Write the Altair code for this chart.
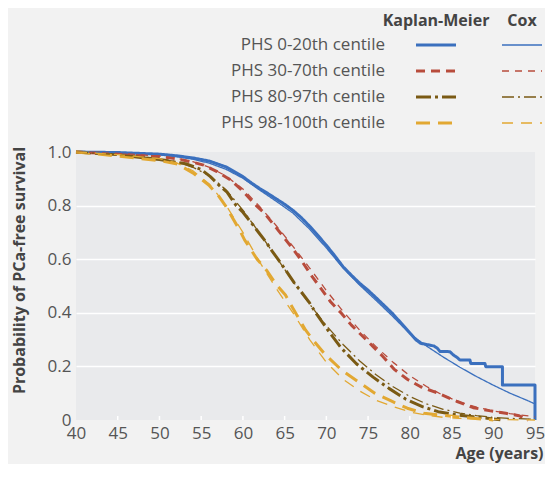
import altair as alt
import pandas as pd

# ---------------- data ----------------
series = ["PHS 0-20th centile", "PHS 30-70th centile",
          "PHS 80-97th centile", "PHS 98-100th centile"]
methods = ["Kaplan-Meier", "Cox"]
colors = ["#3b70be", "#b84c3c", "#7a5a14", "#e2a832"]

x_ticks = [40, 45, 50, 55, 60, 65, 70, 75, 80, 85, 90, 95]
inner_ticks = [45, 50, 55, 60, 65, 70, 75, 80, 85, 90]
y_ticks = [0, 0.2, 0.4, 0.6, 0.8, 1.0]

# Kaplan-Meier curves
km0_age = [40, 45, 50, 52, 54, 56, 58, 60, 61, 62, 63, 64, 65, 66, 67, 68, 69, 70, 71, 72,
           73, 74, 75, 76, 77, 78, 79, 80, 80.7, 81.3, 82.0, 82.9, 83.3, 83.6, 84.8, 85.2,
           85.6, 86.0, 87.2, 87.3, 89.0, 89.1, 91.1, 91.1, 95.0, 95.0]
km0_surv = [1.0, 0.998, 0.992, 0.986, 0.978, 0.966, 0.944, 0.908, 0.885, 0.864, 0.845,
            0.825, 0.805, 0.782, 0.755, 0.723, 0.688, 0.652, 0.613, 0.572, 0.54, 0.51,
            0.484, 0.455, 0.425, 0.395, 0.36, 0.325, 0.3, 0.286, 0.282, 0.276, 0.268,
            0.256, 0.255, 0.243, 0.235, 0.224, 0.224, 0.211, 0.211, 0.199, 0.199, 0.131,
            0.131, 0.0]

km1_age = [40, 45, 47.5, 50, 52, 54, 55.3, 56.9, 58.5, 59.8, 61.6, 62.6, 64.0, 65.0, 66.1,
           66.9, 68.3, 69.3, 70.5, 71.8, 73.0, 74.2, 75.6, 76.8, 78.1, 79.7, 81.3, 83.2,
           85.6, 87.6, 89.5, 91.5, 93.1, 93.6, 94.2]
km1_surv = [1.0, 0.993, 0.988, 0.983, 0.975, 0.962, 0.951, 0.927, 0.896, 0.86, 0.8, 0.771,
            0.717, 0.678, 0.634, 0.6, 0.535, 0.493, 0.441, 0.398, 0.354, 0.317, 0.274,
            0.236, 0.19, 0.152, 0.124, 0.102, 0.07, 0.046, 0.035, 0.025, 0.016, 0.008, 0.0]

km2_age = [40, 45, 47.5, 50, 51.4, 53.3, 55, 56.1, 57.1, 58.1, 59.2, 60.0, 61.2, 62.0, 62.8,
           63.5, 64.2, 65.1, 66.2, 67.9, 68.9, 70.3, 71.8, 73.6, 75.6, 77.5, 79.5, 81.5,
           83.4, 85.6, 87.6, 89.5, 91.0]
km2_surv = [1.0, 0.99, 0.98, 0.972, 0.965, 0.955, 0.935, 0.908, 0.877, 0.85, 0.8, 0.775,
            0.728, 0.695, 0.663, 0.63, 0.6, 0.56, 0.51, 0.441, 0.392, 0.33, 0.268, 0.21,
            0.16, 0.118, 0.078, 0.05, 0.031, 0.019, 0.012, 0.006, 0.0]

km3_age = [40, 43.5, 47.5, 50, 52.2, 54.1, 55.9, 57.0, 57.9, 59.6, 60.2, 61.7, 62.8, 64.0,
           65.1, 66.3, 67.5, 68.5, 69.9, 71.8, 73.8, 75.8, 77.7, 79.7, 81.7, 85.6, 90.0]
km3_surv = [1.0, 0.99, 0.976, 0.968, 0.955, 0.92, 0.877, 0.84, 0.8, 0.709, 0.672, 0.6,
            0.56, 0.505, 0.466, 0.4, 0.336, 0.295, 0.243, 0.187, 0.143, 0.1, 0.072, 0.044,
            0.025, 0.012, 0.0]

# Cox model curves
cox0_age = [40, 45, 50, 52, 54, 56, 58, 60, 62, 64, 66, 68, 70, 72, 74, 76, 78, 80, 82, 84,
            86, 88, 90, 92, 94, 95]
cox0_surv = [1.0, 0.998, 0.99, 0.983, 0.973, 0.958, 0.935, 0.902, 0.858, 0.816, 0.772,
             0.712, 0.642, 0.567, 0.503, 0.445, 0.385, 0.322, 0.276, 0.235, 0.197, 0.162,
             0.13, 0.1, 0.074, 0.06]

cox1_age = [40, 45, 50, 52, 54, 56, 58, 60, 62, 64, 66, 68, 70, 72, 74, 76, 78, 80, 82, 84,
            86, 88, 90, 92, 95]
cox1_surv = [1.0, 0.995, 0.985, 0.977, 0.964, 0.943, 0.91, 0.862, 0.797, 0.725, 0.648,
             0.567, 0.483, 0.405, 0.335, 0.272, 0.215, 0.165, 0.125, 0.092, 0.067, 0.048,
             0.034, 0.024, 0.012]

cox2_age = [40, 45, 50, 52, 54, 56, 58, 60, 62, 64, 66, 68, 70, 72, 74, 76, 78, 80, 82, 84,
            86, 88, 90, 92, 95]
cox2_surv = [1.0, 0.99, 0.976, 0.963, 0.943, 0.912, 0.858, 0.783, 0.697, 0.607, 0.517,
             0.432, 0.352, 0.282, 0.22, 0.168, 0.124, 0.088, 0.06, 0.04, 0.026, 0.016,
             0.01, 0.006, 0.003]

cox3_age = [40, 45, 50, 52, 54, 56, 58, 60, 62, 64, 66, 68, 70, 72, 74, 76, 78, 80, 82, 84,
            86, 90, 95]
cox3_surv = [1.0, 0.99, 0.975, 0.96, 0.93, 0.88, 0.8, 0.7, 0.59, 0.49, 0.4, 0.3, 0.215,
             0.152, 0.108, 0.073, 0.05, 0.03, 0.018, 0.01, 0.006, 0.002, 0.0]

km_dash = [[1, 0], [9, 6], [15, 4, 3, 4], [14, 8]]
cox_dash = [[1, 0], [7, 6], [12, 4, 2, 4], [11, 8]]

# ---------------- build tables ----------------
curves = {
    ("Kaplan-Meier", 0): (km0_age, km0_surv), ("Kaplan-Meier", 1): (km1_age, km1_surv),
    ("Kaplan-Meier", 2): (km2_age, km2_surv), ("Kaplan-Meier", 3): (km3_age, km3_surv),
    ("Cox", 0): (cox0_age, cox0_surv), ("Cox", 1): (cox1_age, cox1_surv),
    ("Cox", 2): (cox2_age, cox2_surv), ("Cox", 3): (cox3_age, cox3_surv),
}
rows = []
for (m, i), (ages, survs) in curves.items():
    for j, (a, s) in enumerate(zip(ages, survs)):
        rows.append({"series": series[i], "method": m, "key": f"{series[i]} | {m}",
                     "age": a, "surv": s, "idx": j})
df = pd.DataFrame(rows)

keys = [f"{s} | {m}" for m in methods for s in series]
dash_range = km_dash + cox_dash

color_scale = alt.Scale(domain=series, range=colors)
dash_scale = alt.Scale(domain=keys, range=dash_range)
width_scale = alt.Scale(domain=methods, range=[3, 1.3])

W, H = 459, 268
FONT = "Open Sans"
TXT = "#555555"
TTL = "#444444"

x_enc = alt.X("age:Q", scale=alt.Scale(domain=[40, 95], nice=False, zero=False),
              axis=alt.Axis(values=x_ticks, format="d", title="Age (years)",
                            labelFontSize=17, labelColor=TXT, labelPadding=5,
                            labelFlush=False, ticks=False, domain=False, grid=False,
                            titleFontSize=16, titleFontWeight="bold", titleColor=TTL,
                            titleAlign="right", titleX=W + 8, titlePadding=4))
y_enc = alt.Y("surv:Q", scale=alt.Scale(domain=[0, 1], nice=False),
              axis=alt.Axis(values=y_ticks, title="Probability of PCa-free survival",
                            labelExpr="datum.value == 0 ? '0' : format(datum.value, '.1f')",
                            labelFontSize=17, labelColor=TXT, labelPadding=5,
                            ticks=False, domain=False, grid=True, gridColor="white",
                            gridWidth=1.6,
                            gridOpacity={"condition": {"test": "datum.value <= 0 || datum.value >= 1",
                                                       "value": 0}, "value": 1},
                            titleFontSize=16, titleFontWeight="bold", titleColor=TTL,
                            titleX=-49, titleY=118, titleBaseline="bottom"))

enc = dict(
    x=x_enc, y=y_enc,
    color=alt.Color("series:N", scale=color_scale, legend=None),
    strokeDash=alt.StrokeDash("key:N", scale=dash_scale, legend=None),
    strokeWidth=alt.StrokeWidth("method:N", scale=width_scale, legend=None),
    order=alt.Order("idx:Q"),
)

base = alt.Chart(df)
km_lines = base.transform_filter(alt.datum.method == "Kaplan-Meier").mark_line(
    strokeCap="butt", strokeJoin="round").encode(**enc)
cox_lines = base.transform_filter(alt.datum.method == "Cox").mark_line(
    strokeCap="butt", strokeJoin="round").encode(**enc)

ticks = alt.Chart(pd.DataFrame({"t": inner_ticks})).mark_rule(
    color="white", strokeWidth=1.5).encode(
    x=alt.X("t:Q"), y=alt.value(H - 4), y2=alt.value(H))

main = alt.layer(km_lines, cox_lines, ticks).properties(
    width=W, height=H, view=alt.ViewBackground(fill="#e9eaec", stroke=None))

# ---------------- legend panel ----------------
leg_rows = []
for s in series:
    for m in methods:
        leg_rows.append({"row": s, "series": s, "method": m, "key": f"{s} | {m}"})
leg_df = pd.DataFrame(leg_rows)
lab_df = pd.DataFrame({"row": series, "method": ["Kaplan-Meier"] * 4, "text": series})
head_df = pd.DataFrame({"row": ["header"] * 2, "method": methods, "text": methods})

LH = 104
leg_x = alt.X("method:N", scale=alt.Scale(domain=methods, range=[360, 446], type="point",
                                          padding=0), axis=None)
leg_y = alt.Y("row:N", scale=alt.Scale(domain=["header"] + series, type="point", padding=0),
              axis=None)

leg_lines = alt.Chart(leg_df).mark_rule(xOffset=-20, x2Offset=20, strokeCap="butt").encode(
    x=leg_x, x2=alt.X2("method:N"), y=leg_y,
    color=alt.Color("series:N", scale=color_scale, legend=None),
    strokeDash=alt.StrokeDash("key:N", scale=dash_scale, legend=None),
    strokeWidth=alt.StrokeWidth("method:N", scale=width_scale, legend=None),
)
leg_labels = alt.Chart(lab_df).mark_text(align="right", baseline="middle", dx=-51,
                                         fontSize=17, color=TXT, font=FONT).encode(
    x=leg_x, y=leg_y, text="text:N")
leg_head = alt.Chart(head_df).mark_text(align="center", baseline="middle", fontSize=16,
                                        fontWeight="bold", color=TTL, font=FONT,
                                        dy=2).encode(
    x=leg_x, y=leg_y, text="text:N")

legend = alt.layer(leg_lines, leg_labels, leg_head).properties(
    width=W, height=LH, view=alt.ViewBackground(fill=None, stroke=None))

chart = alt.vconcat(legend, main, spacing=29, bounds="flush").properties(
    background="#f2f2f2",
    padding={"left": 2, "top": 5, "right": 0, "bottom": 3},
).configure(font=FONT).configure_view(stroke=None)

chart.save("out.html", embed_options={"renderer": "svg", "actions": False})
